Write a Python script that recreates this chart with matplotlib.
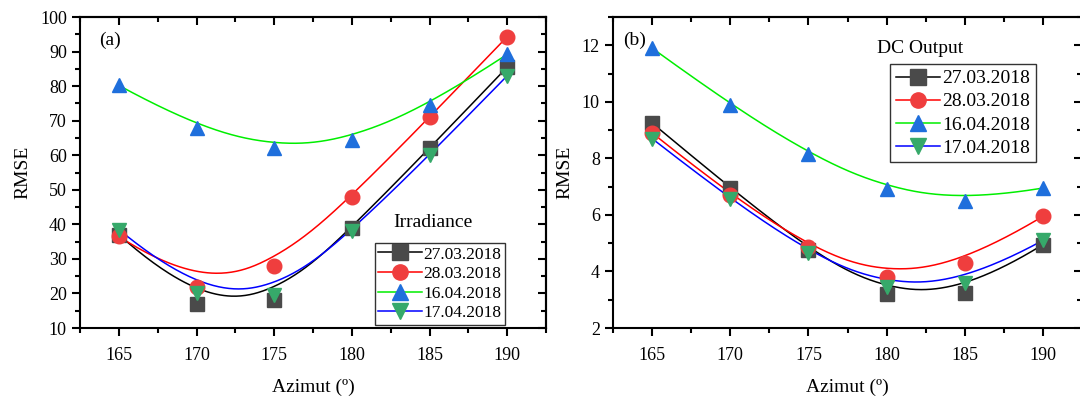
import matplotlib
matplotlib.use('Agg')
import matplotlib.pyplot as plt
from matplotlib.ticker import MultipleLocator
import numpy as np

plt.rcParams['font.family'] = ['Liberation Serif', 'DejaVu Serif']

azimut = [165, 170, 175, 180, 185, 190]
dates = ['27.03.2018', '28.03.2018', '16.04.2018', '17.04.2018']

# RMSE of the irradiance model
irr_2703 = [37.0, 17.0, 18.0, 39.0, 62.0, 85.5]
irr_2803 = [36.5, 22.0, 28.0, 48.0, 71.0, 94.3]
irr_1604 = [80.2, 68.0, 62.0, 64.5, 74.5, 89.2]
irr_1704 = [38.5, 20.0, 19.5, 38.0, 60.0, 83.0]

# RMSE of the DC output model
dc_2703 = [9.25, 6.95, 4.75, 3.2, 3.25, 4.95]
dc_2803 = [8.9, 6.7, 4.85, 3.8, 4.3, 5.95]
dc_1604 = [11.9, 9.9, 8.15, 6.9, 6.5, 6.95]
dc_1704 = [8.7, 6.55, 4.65, 3.45, 3.6, 5.1]

styles = [
    dict(line='black', marker='s', mfc='#4a4a4a'),
    dict(line='red', marker='o', mfc='#ef3e3e'),
    dict(line='#00ee00', marker='^', mfc='#1f6fdc'),
    dict(line='blue', marker='v', mfc='#36a96a'),
]


def bspline(xc, yc, deg=3, num=300):
    # clamped uniform B-spline using the points as control points
    n = len(xc)
    inner = np.linspace(0, 1, n - deg + 1)
    knots = np.concatenate([[0] * deg, inner, [1] * deg])
    t = np.linspace(0, 1 - 1e-9, num)
    B = np.zeros((num, len(knots) - 1))
    for i in range(len(knots) - 1):
        B[:, i] = (t >= knots[i]) & (t < knots[i + 1])
    for d in range(1, deg + 1):
        Bn = np.zeros((num, len(knots) - 1 - d))
        for i in range(len(knots) - 1 - d):
            a = knots[i + d] - knots[i]
            b = knots[i + d + 1] - knots[i + 1]
            left = (t - knots[i]) / a * B[:, i] if a > 0 else 0
            right = (knots[i + d + 1] - t) / b * B[:, i + 1] if b > 0 else 0
            Bn[:, i] = left + right
        B = Bn
    return B @ np.asarray(xc, float), B @ np.asarray(yc, float)


def draw(ax, series, ylim, ymaj, ymin, tag, tag_x, title, title_xy, leg_kw):
    handles = []
    for vals, st, lab in zip(series, styles, dates):
        bx, by = bspline(azimut, vals)
        ax.plot(bx, by, color=st['line'], lw=1.1, zorder=2)
        ax.plot(azimut, vals, ls='none', marker=st['marker'], ms=10.5,
                mfc=st['mfc'], mec=st['mfc'], zorder=3)
        h, = ax.plot([], [], color=st['line'], lw=1.1, marker=st['marker'],
                     ms=11, mfc=st['mfc'], mec=st['mfc'], label=lab)
        handles.append(h)

    ax.set_xlim(162.5, 192.5)
    ax.set_ylim(*ylim)
    ax.xaxis.set_major_locator(MultipleLocator(5))
    ax.xaxis.set_minor_locator(MultipleLocator(2.5))
    ax.yaxis.set_major_locator(MultipleLocator(ymaj))
    ax.yaxis.set_minor_locator(MultipleLocator(ymin))
    ax.tick_params(which='major', direction='out', length=6, width=1.5, labelsize=13)
    ax.tick_params(which='minor', direction='out', length=3.5, width=1.5)
    ax.tick_params(axis='x', which='major', pad=8)
    for s in ax.spines.values():
        s.set_linewidth(1.5)

    # mirrored ticks pointing inward on top and right
    top = ax.secondary_xaxis('top')
    top.xaxis.set_major_locator(MultipleLocator(5))
    top.xaxis.set_minor_locator(MultipleLocator(2.5))
    top.tick_params(which='major', direction='in', length=6, width=1.5, labeltop=False)
    top.tick_params(which='minor', direction='in', length=3.5, width=1.5)
    right = ax.secondary_yaxis('right')
    right.yaxis.set_major_locator(MultipleLocator(ymaj))
    right.yaxis.set_minor_locator(MultipleLocator(ymin))
    right.tick_params(which='major', direction='in', length=6, width=1.5, labelright=False)
    right.tick_params(which='minor', direction='in', length=3.5, width=1.5)
    for sec in (top, right):
        for s in sec.spines.values():
            s.set_linewidth(1.5)

    ax.set_xlabel('Azimut (º)', fontsize=14, labelpad=10)
    ax.set_ylabel('RMSE', fontsize=14, labelpad=6)
    ax.text(tag_x, 0.925, tag, transform=ax.transAxes, fontsize=14, va='center')
    ax.text(title_xy[0], title_xy[1], title, transform=ax.transAxes,
            fontsize=14, va='center')
    leg = ax.legend(handles=handles, frameon=True, fancybox=False,
                    edgecolor='black', handletextpad=0.1, borderaxespad=0,
                    **leg_kw)
    leg.get_frame().set_linewidth(1.0)


fig = plt.figure(figsize=(10.8, 4.01), dpi=100)
ax1 = fig.add_axes([0.0741, 0.182, 0.4315, 0.7756])
ax2 = fig.add_axes([0.5676, 0.182, 0.4343, 0.7756])

draw(ax1, [irr_2703, irr_2803, irr_1604, irr_1704], (10, 100), 10, 5,
     '(a)', 0.041, 'Irradiance', (0.672, 0.338),
     dict(loc='lower right', bbox_to_anchor=(0.912, 0.01), fontsize=12.5,
          handlelength=2.5, borderpad=0.2, labelspacing=0.2))
draw(ax2, [dc_2703, dc_2803, dc_1604, dc_1704], (2, 13), 2, 1,
     '(b)', 0.021, 'DC Output', (0.563, 0.9),
     dict(loc='upper left', bbox_to_anchor=(0.59, 0.849), fontsize=14,
          handlelength=2.3, borderpad=0.3, labelspacing=0.28))

fig.savefig('out.png', dpi=100)
